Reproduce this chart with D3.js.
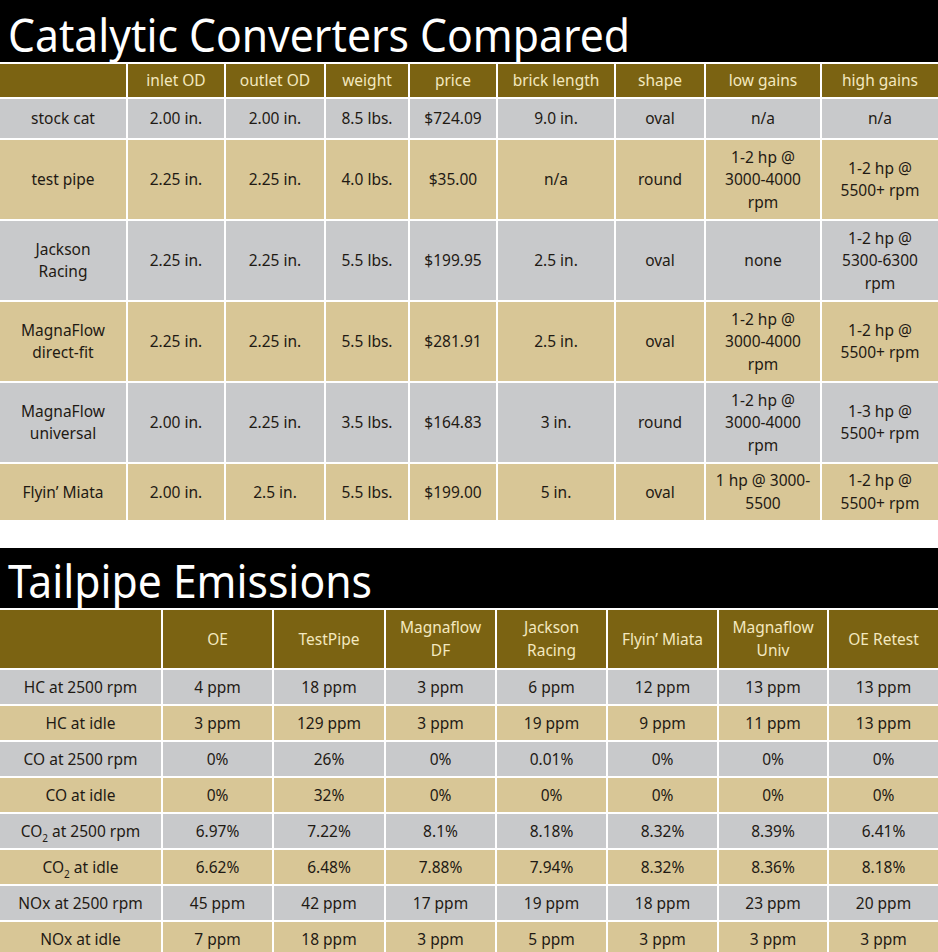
<!DOCTYPE html>
<html><head><meta charset="utf-8">
<script src="https://cdn.jsdelivr.net/npm/d3@7"></script>
<style>body{margin:0;background:#fff}svg{display:block}</style>
</head><body>
<svg id="c" width="938" height="952"></svg>
<script>
// Tabla 1: convertidores
const catHeaders = ["", "inlet OD", "outlet OD", "weight", "price", "brick length", "shape", "low gains", "high gains"];
const catNames = ["stock cat", "test pipe", "Jackson\nRacing", "MagnaFlow\ndirect-fit", "MagnaFlow\nuniversal", "Flyin’ Miata"];
const inletOD = ["2.00 in.", "2.25 in.", "2.25 in.", "2.25 in.", "2.00  in.", "2.00  in."];
const outletOD = ["2.00 in.", "2.25 in.", "2.25 in.", "2.25 in.", "2.25 in.", "2.5 in."];
const weight = ["8.5 lbs.", "4.0 lbs.", "5.5 lbs.", "5.5 lbs.", "3.5 lbs.", "5.5 lbs."];
const price = ["$724.09", "$35.00", "$199.95", "$281.91", "$164.83", "$199.00"];
const brick = ["9.0 in.", "n/a", "2.5 in.", "2.5 in.", "3 in.", "5 in."];
const shape = ["oval", "round", "oval", "oval", "round", "oval"];
const lowGains = ["n/a", "1-2 hp @\n3000-4000\nrpm", "none", "1-2 hp @\n3000-4000\nrpm", "1-2 hp @\n3000-4000\nrpm", "1 hp @ 3000-\n5500"];
const highGains = ["n/a", "1-2 hp @\n5500+ rpm", "1-2 hp @\n5300-6300\nrpm", "1-2 hp @\n5500+ rpm", "1-3 hp @\n5500+ rpm", "1-2 hp @\n5500+ rpm"];

// Tabla 2: emisiones
const emHeaders = ["", "OE", "TestPipe", "Magnaflow\nDF", "Jackson\nRacing", "Flyin’ Miata", "Magnaflow\nUniv", "OE Retest"];
const emRows = ["HC at 2500 rpm", "HC at idle", "CO at 2500 rpm", "CO at idle", "CO2 at 2500 rpm", "CO2 at idle", "NOx at 2500 rpm", "NOx at idle"];
const oe = ["4 ppm", "3 ppm", "0%", "0%", "6.97%", "6.62%", "45 ppm", "7 ppm"];
const testPipe = ["18 ppm", "129 ppm", "26%", "32%", "7.22%", "6.48%", "42 ppm", "18 ppm"];
const mfDF = ["3 ppm", "3 ppm", "0%", "0%", "8.1%", "7.88%", "17 ppm", "3 ppm"];
const jackson = ["6 ppm", "19 ppm", "0.01%", "0%", "8.18%", "7.94%", "19 ppm", "5 ppm"];
const flyin = ["12 ppm", "9 ppm", "0%", "0%", "8.32%", "8.32%", "18 ppm", "3 ppm"];
const mfUniv = ["13 ppm", "11 ppm", "0%", "0%", "8.39%", "8.36%", "23 ppm", "3 ppm"];
const oeRetest = ["13 ppm", "13 ppm", "0%", "0%", "6.41%", "8.18%", "20 ppm", "3 ppm"];

const BROWN = "#7b6312", HEADTXT = "#f3e8bf", GRAY = "#c8c9cb", TAN = "#d8c696", TXT = "#1f1a14";
const FONT = "'Noto Sans', 'Open Sans', sans-serif";
const svg = d3.select("#c");

function edges(list) { return list; }

function drawTable(top, titleText, titleH, colEdges, headerH, headers, rowHeights, rows) {
  svg.append("rect").attr("x", 0).attr("y", top).attr("width", 938).attr("height", titleH).attr("fill", "#000");
  svg.append("text").attr("x", 8).attr("y", top + titleH - 10).attr("fill", "#fff")
    .attr("font-family", FONT).attr("font-size", 45).attr("textLength", titleText.length > 20 ? 622 : 364)
    .attr("lengthAdjust", "spacingAndGlyphs").text(titleText);
  const g = svg.append("g");
  const heights = [headerH].concat(rowHeights);
  let y = top + titleH + 2;
  const ys = heights.map(h => { const r = y; y += h + 2; return r; });
  const allRows = [headers].concat(rows);
  allRows.forEach((row, ri) => {
    const fill = ri === 0 ? BROWN : (ri % 2 ? GRAY : TAN);
    row.forEach((val, ci) => {
      const x0 = colEdges[ci] + (ci ? 2 : 0), x1 = colEdges[ci + 1];
      g.append("rect").attr("x", x0).attr("y", ys[ri]).attr("width", x1 - x0).attr("height", heights[ri]).attr("fill", fill);
      const lines = val.split("\n");
      const lh = 22.5, cy = ys[ri] + heights[ri] / 2;
      const t = g.append("text").attr("text-anchor", "middle").attr("font-family", FONT).attr("font-size", 15.5)
        .attr("fill", ri === 0 ? HEADTXT : TXT);
      lines.forEach((ln, li) => {
        const ts = t.append("tspan").attr("x", (x0 + x1) / 2).attr("y", cy + (li - (lines.length - 1) / 2) * lh + 5.5);
        if (ln.startsWith("CO2")) {
          ts.text("CO");
          t.append("tspan").attr("font-size", 10).attr("dy", 5).text("2");
          t.append("tspan").attr("dy", -5).text(ln.slice(3));
        } else ts.text(ln);
      });
    });
  });
}

const catCols = [0, 126, 224, 324, 408, 496, 614, 704, 820, 938];
const catData = catNames.map((n, i) => [n, inletOD[i], outletOD[i], weight[i], price[i], brick[i], shape[i], lowGains[i], highGains[i]]);
drawTable(0, "Catalytic Converters Compared", 62, catCols, 33, catHeaders, [39, 79, 79, 79, 79, 56], catData);

const emCols = [0, 161, 272, 384, 495, 606, 717, 827, 938];
const emData = emRows.map((n, i) => [n, oe[i], testPipe[i], mfDF[i], jackson[i], flyin[i], mfUniv[i], oeRetest[i]]);
drawTable(548, "Tailpipe Emissions", 60, emCols, 58, emHeaders, [34, 34, 34, 34, 34, 34, 34, 34], emData);
</script>
</body></html>
